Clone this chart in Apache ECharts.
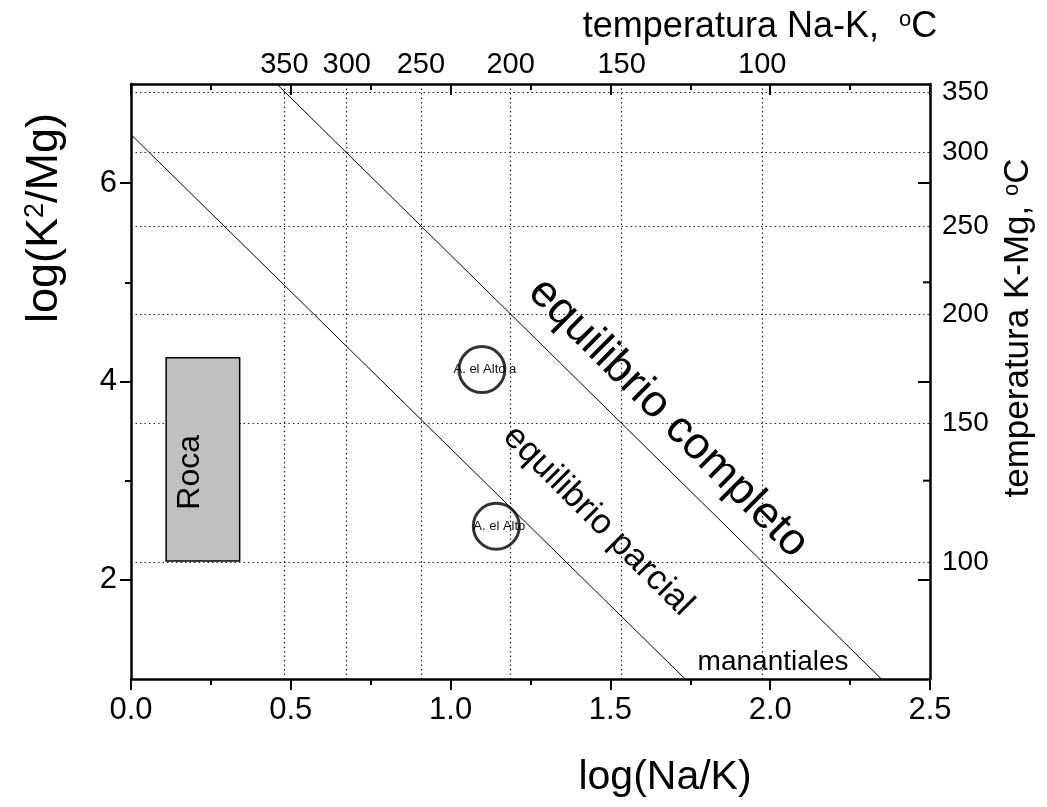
<!DOCTYPE html>
<html>
<head>
<meta charset="utf-8">
<script src="https://cdn.jsdelivr.net/npm/echarts@6/dist/echarts.min.js"></script>
<style>
html, body { margin: 0; padding: 0; background: #fff; }
#chart { width: 1047px; height: 807px; }
</style>
</head>
<body>
<div id="chart"></div>
<script>
// ---- data ----
const xTicks = [0.0, 0.5, 1.0, 1.5, 2.0, 2.5];
const yMajorTicks = [2, 4, 6];
const yMinorTicks = [3, 5];
const naKTemps = [350, 300, 250, 200, 150, 100];              // top axis labels (°C)
const naKLogRatio = [0.48, 0.675, 0.907, 1.188, 1.535, 1.975]; // their log(Na/K) positions
const kMgTemps = [350, 300, 250, 200, 150, 100];              // right axis labels (°C)
const kMgLogRatio = [6.92, 6.31, 5.57, 4.68, 3.58, 2.18];      // their log(K2/Mg) positions
const fullEquilibrium = [[0.456, 7.0], [2.348, 1.0]];
const partialEquilibrium = [[0.0, 6.49], [1.734, 1.0]];
const sampleNames = ['A. el Alto a', 'A. el Alto'];
const sampleX = [1.098, 1.143];
const sampleY = [4.12, 2.54];
const rockBox = [0.11, 4.24, 0.34, 2.19]; // x1, y1, x2, y2
const annotationTexts = ['equilibrio completo', 'equilibrio parcial', 'manantiales'];
const annotationPos = [[1.681, 3.633], [1.4615, 2.595], [2.009, 1.173]];

const FONT = "'Liberation Sans', Arial, sans-serif";
const X_MAX = 2.5;
const lookup = (vals, labels) => (v) => {
  const i = vals.findIndex(p => Math.abs(p - v) < 1e-6);
  return i >= 0 ? String(labels[i]) : '';
};

const chart = echarts.init(document.getElementById('chart'), null, { renderer: 'canvas' });

const mkLine = (show) => ({ show: show, onZero: false, lineStyle: { color: '#000', width: 2.5 } });
const mkTick = () => ({ color: '#000', width: 2 });
const mkDotted = () => ({ show: true, lineStyle: { color: '#222', width: 1.2, type: [1.5, 3] } });

// annotation styles (layout only)
const annStyles = [
  { fontSize: 45, rotation: -Math.PI / 4 },
  { fontSize: 35, rotation: -Math.PI / 4 },
  { fontSize: 28, rotation: 0 }
];

const option = {
  animation: false,
  backgroundColor: '#fff',
  grid: { left: 131, right: 117, top: 84, bottom: 128 },
  xAxis: [
    { type: 'value', position: 'bottom', min: 0, max: X_MAX, interval: 0.5,
      axisLine: mkLine(true), axisTick: { show: true, length: 11, lineStyle: mkTick() },
      minorTick: { show: true, splitNumber: 2, length: 6, lineStyle: mkTick() },
      axisLabel: { show: true, fontSize: 31, fontFamily: FONT, color: '#000', margin: 16,
                   showMinLabel: true, showMaxLabel: true, formatter: v => v.toFixed(1) },
      splitLine: { show: false } },
    { type: 'value', position: 'top', min: 0, max: X_MAX, interval: 0.5,
      axisLine: mkLine(true), axisTick: { show: true, inside: true, length: 11, lineStyle: mkTick() },
      minorTick: { show: true, splitNumber: 2, length: 6, lineStyle: mkTick() },
      axisLabel: { show: false }, splitLine: { show: false } },
    { type: 'value', position: 'top', min: 0, max: X_MAX,
      axisLine: mkLine(false),
      axisTick: { show: false, customValues: naKLogRatio },
      axisLabel: { show: true, customValues: naKLogRatio, fontSize: 29, fontFamily: FONT, color: '#000', margin: 5,
                   formatter: lookup(naKLogRatio, naKTemps) },
      splitLine: mkDotted() }
  ],
  yAxis: [
    { type: 'value', position: 'left', min: 1, max: 7,
      axisLine: mkLine(true), axisTick: { show: true, length: 11, lineStyle: mkTick(), customValues: yMajorTicks },
      axisLabel: { show: true, customValues: yMajorTicks, fontSize: 31, fontFamily: FONT, color: '#000', margin: 14 },
      splitLine: { show: false } },
    { type: 'value', position: 'left', min: 1, max: 7,
      axisLine: mkLine(false), axisTick: { show: true, length: 6, lineStyle: mkTick(), customValues: yMinorTicks },
      axisLabel: { show: false }, splitLine: { show: false } },
    { type: 'value', position: 'right', min: 1, max: 7,
      axisLine: mkLine(true), axisTick: { show: true, inside: true, length: 12, lineStyle: mkTick(), customValues: yMajorTicks },
      axisLabel: { show: false }, splitLine: { show: false } },
    { type: 'value', position: 'right', min: 1, max: 7,
      axisLine: mkLine(false), axisTick: { show: false, customValues: kMgLogRatio },
      axisLabel: { show: true, customValues: kMgLogRatio, fontSize: 28, fontFamily: FONT, color: '#000', margin: 12,
                   formatter: lookup(kMgLogRatio, kMgTemps) },
      splitLine: mkDotted() }
  ],
  series: [
    { type: 'custom', xAxisIndex: 0, yAxisIndex: 0, data: [rockBox], encode: { x: [0, 2], y: [1, 3] },
      renderItem: (params, api) => {
        const p1 = api.coord([api.value(0), api.value(1)]);
        const p2 = api.coord([api.value(2), api.value(3)]);
        return { type: 'group', children: [
          { type: 'rect', shape: { x: p1[0], y: p1[1], width: p2[0] - p1[0], height: p2[1] - p1[1] },
            style: { fill: '#c0c0c0', stroke: '#000', lineWidth: 1.5 } },
          { type: 'text', x: (p1[0] + p2[0]) / 2 - 13, y: (p1[1] + p2[1]) / 2 + 13, rotation: Math.PI / 2,
            style: { text: 'Roca', fontSize: 32, fontFamily: FONT, fill: '#000', align: 'center', verticalAlign: 'middle' } }
        ] };
      } },
    // right-side minor ticks (mirror of left minor ticks)
    { type: 'custom', silent: true, z: 5,
      data: yMinorTicks.map(v => [X_MAX, v]),
      renderItem: (params, api) => {
        const p = api.coord([api.value(0), api.value(1)]);
        return { type: 'line', shape: { x1: p[0] - 7, y1: p[1], x2: p[0], y2: p[1] },
                 style: { stroke: '#000', lineWidth: 2 } };
      } },
    { type: 'line', data: fullEquilibrium, symbol: 'none', lineStyle: { color: '#000', width: 1 }, silent: true },
    { type: 'line', data: partialEquilibrium, symbol: 'none', lineStyle: { color: '#000', width: 1 }, silent: true },
    { type: 'scatter', symbol: 'circle', symbolSize: 46, silent: true,
      data: sampleNames.map((n, i) => ({ name: n, value: [sampleX[i], sampleY[i]] })),
      itemStyle: { color: 'rgba(0,0,0,0)', borderColor: '#000', borderWidth: 3 } },
    { type: 'custom', silent: true,
      data: sampleNames.map((n, i) => [sampleX[i], sampleY[i]]),
      renderItem: (params, api) => {
        const p = api.coord([api.value(0), api.value(1)]);
        return { type: 'text', x: p[0] + 3, y: p[1],
          style: { text: sampleNames[params.dataIndex], fontSize: 13, fontFamily: FONT, fill: '#111',
                   align: 'center', verticalAlign: 'middle' } };
      } },
    { type: 'custom', silent: true,
      data: annotationPos,
      renderItem: (params, api) => {
        const p = api.coord([api.value(0), api.value(1)]);
        const s = annStyles[params.dataIndex];
        return { type: 'text', x: p[0], y: p[1], rotation: s.rotation,
          style: { text: annotationTexts[params.dataIndex], fontSize: s.fontSize, fontFamily: FONT, fill: '#000',
                   align: 'center', verticalAlign: 'middle' } };
      } }
  ],
  graphic: [
    { type: 'text', x: 665, y: 778, style: { text: 'log(Na/K)', fontSize: 41, fontFamily: FONT, fill: '#000', align: 'center', verticalAlign: 'middle' } },
    { type: 'text', x: 45, y: 218, rotation: Math.PI / 2,
      style: { text: 'log(K{sup|2}/Mg)', fontSize: 45, fontFamily: FONT, fill: '#000', align: 'center', verticalAlign: 'middle',
               rich: { sup: { fontSize: 27, fontFamily: FONT, fill: '#000', verticalAlign: 'top' } } } },
    { type: 'text', x: 760, y: 27,
      style: { text: 'temperatura Na-K,  {sup|o}C', fontSize: 36, fontFamily: FONT, fill: '#000', align: 'center', verticalAlign: 'middle',
               rich: { sup: { fontSize: 22, fontFamily: FONT, fill: '#000', verticalAlign: 'top' } } } },
    { type: 'text', x: 1018, y: 328, rotation: Math.PI / 2,
      style: { text: 'temperatura K-Mg, {sup|o}C', fontSize: 35, fontFamily: FONT, fill: '#000', align: 'center', verticalAlign: 'middle',
               rich: { sup: { fontSize: 22, fontFamily: FONT, fill: '#000', verticalAlign: 'top' } } } }
  ]
};

chart.setOption(option);
</script>
</body>
</html>
